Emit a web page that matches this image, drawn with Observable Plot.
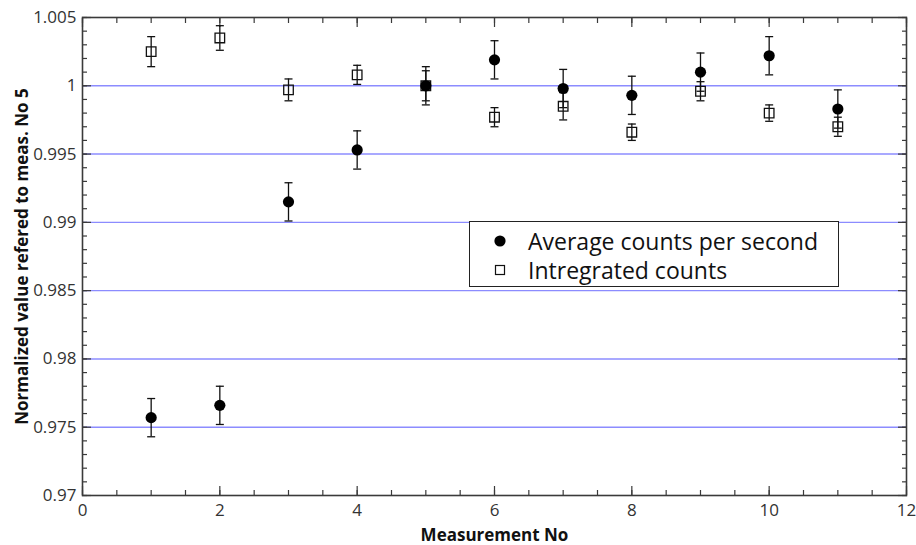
<!DOCTYPE html>
<html>
<head>
<meta charset="utf-8">
<script src="https://cdn.jsdelivr.net/npm/d3@7"></script>
<script src="https://cdn.jsdelivr.net/npm/@observablehq/plot@0.6"></script>
<style>
  html, body { margin: 0; padding: 0; background: #fff; }
  #wrap { position: relative; width: 916px; height: 545px; font-family: "Open Sans", sans-serif; }
  #legend { position: absolute; left: 469px; top: 221px; width: 370px; height: 66px;
    border: 1.3px solid #222; background: #fff; box-sizing: border-box; font-size: 23px; color: #111; }
  #legend .row { position: absolute; left: 0; display: flex; align-items: center; height: 30px; }
  #legend svg { display: block; }
</style>
</head>
<body>
<div id="wrap"></div>
<script>
// ---- data ----
const measurement = [1, 2, 3, 4, 5, 6, 7, 8, 9, 10, 11];
const avgCounts =    [0.9757, 0.9766, 0.9915, 0.9953, 1.0000, 1.0019, 0.9998, 0.9993, 1.0010, 1.0022, 0.9983];
const avgErr =       [0.0014, 0.0014, 0.0014, 0.0014, 0.0014, 0.0014, 0.0014, 0.0014, 0.0014, 0.0014, 0.0014];
const intCounts =    [1.0025, 1.0035, 0.9997, 1.0008, 1.0000, 0.9977, 0.9985, 0.9966, 0.9996, 0.9980, 0.9970];
const intErr =       [0.0011, 0.0009, 0.0008, 0.0007, 0.0011, 0.0007, 0.0010, 0.0006, 0.0007, 0.0006, 0.0007];
const seriesNames = ["Average counts per second", "Intregrated counts"];
const xTicks = [0, 2, 4, 6, 8, 10, 12];
const xTickLabels = ["0", "2", "4", "6", "8", "10", "12"];
const yTicks = [0.97, 0.975, 0.98, 0.985, 0.99, 0.995, 1, 1.005];
const yTickLabels = ["0.97", "0.975", "0.98", "0.985", "0.99", "0.995", "1", "1.005"];
const gridValues = [0.975, 0.98, 0.985, 0.99, 0.995, 1];
const xTitle = "Measurement No";
const yTitle = "Normalized value refered to meas. No 5";

const avgData = measurement.map((m, i) => ({x: m, y: avgCounts[i], lo: avgCounts[i] - avgErr[i], hi: avgCounts[i] + avgErr[i]}));
const intData = measurement.map((m, i) => ({x: m, y: intCounts[i], lo: intCounts[i] - intErr[i], hi: intCounts[i] + intErr[i]}));

const xMinor = d3.range(0, 12.01, 0.5);
const yMinor = d3.range(0, 36).map(i => +(0.97 + i * 0.001).toFixed(3));

const capSymbol = { draw(ctx, size) { const w = Math.sqrt(size) / 2; ctx.moveTo(-w, 0); ctx.lineTo(w, 0); } };
const capR = Math.sqrt(64 / Math.PI);
const ink = "#111";
const frameInk = "#3a3a3a";

const chart = Plot.plot({
  width: 916,
  height: 545,
  marginLeft: 82,
  marginRight: 10,
  marginTop: 17,
  marginBottom: 50,
  style: { fontFamily: "'Open Sans', sans-serif", fontSize: "17px", color: "#222", background: "#fff" },
  x: { domain: [0, 12] },
  y: { domain: [0.97, 1.005] },
  marks: [
    Plot.ruleY(gridValues, { stroke: "#8c8cff", strokeWidth: 1.4 }),
    // minor/major ticks, inward
    Plot.axisX({ anchor: "bottom", ticks: xMinor, tickSize: -5, tickFormat: () => "", label: null, stroke: frameInk, strokeWidth: 1.2 }),
    Plot.axisX({ anchor: "bottom", ticks: xTicks, tickSize: -9, tickFormat: () => "", label: null, stroke: frameInk, strokeWidth: 1.2 }),
    Plot.axisX({ anchor: "top", ticks: xMinor, tickSize: -5, tickFormat: () => "", label: null, stroke: frameInk, strokeWidth: 1.2 }),
    Plot.axisX({ anchor: "top", ticks: xTicks, tickSize: -9, tickFormat: () => "", label: null, stroke: frameInk, strokeWidth: 1.2 }),
    Plot.axisY({ anchor: "left", ticks: yMinor, tickSize: -5, tickFormat: () => "", label: null, stroke: frameInk, strokeWidth: 1.2 }),
    Plot.axisY({ anchor: "left", ticks: yTicks, tickSize: -9, tickFormat: () => "", label: null, stroke: frameInk, strokeWidth: 1.2 }),
    Plot.axisY({ anchor: "right", ticks: yMinor, tickSize: -5, tickFormat: () => "", label: null, stroke: frameInk, strokeWidth: 1.2 }),
    Plot.axisY({ anchor: "right", ticks: yTicks, tickSize: -9, tickFormat: () => "", label: null, stroke: frameInk, strokeWidth: 1.2 }),
    // tick labels
    Plot.axisX({ anchor: "bottom", ticks: xTicks, tickSize: 0, tickPadding: 8, tickFormat: (d) => xTickLabels[xTicks.indexOf(d)], label: null, fontSize: 17, fill: "#333" }),
    Plot.axisY({ anchor: "left", ticks: yTicks, tickSize: 0, tickPadding: 6, tickFormat: (d) => yTickLabels[yTicks.indexOf(d)], label: null, fontSize: 17, fill: "#333" }),
    Plot.frame({ stroke: frameInk, strokeWidth: 1.6 }),
    // error bars: integrated
    Plot.ruleX(intData, { x: "x", y1: "lo", y2: "hi", stroke: ink, strokeWidth: 1.3 }),
    Plot.dot(intData, { x: "x", y: "lo", symbol: capSymbol, r: capR, stroke: ink, strokeWidth: 1.3 }),
    Plot.dot(intData, { x: "x", y: "hi", symbol: capSymbol, r: capR, stroke: ink, strokeWidth: 1.3 }),
    Plot.dot(intData, { x: "x", y: "y", symbol: "square", r: 5.4, stroke: ink, fill: "none", strokeWidth: 1.3 }),
    // error bars: average
    Plot.ruleX(avgData, { x: "x", y1: "lo", y2: "hi", stroke: ink, strokeWidth: 1.3 }),
    Plot.dot(avgData, { x: "x", y: "lo", symbol: capSymbol, r: capR, stroke: ink, strokeWidth: 1.3 }),
    Plot.dot(avgData, { x: "x", y: "hi", symbol: capSymbol, r: capR, stroke: ink, strokeWidth: 1.3 }),
    Plot.dot(avgData, { x: "x", y: "y", symbol: "circle", r: 5.6, fill: "#000", stroke: "none" }),
    // axis titles
    Plot.text([xTitle], { text: (d) => d, frameAnchor: "bottom", textAnchor: "middle", lineAnchor: "middle", dy: 40, fontWeight: "bold", fontSize: 17, fill: "#111" }),
    Plot.text([yTitle], { text: (d) => d, frameAnchor: "left", textAnchor: "middle", lineAnchor: "middle", dx: -60, rotate: -90, fontWeight: "bold", fontSize: 17, fill: "#111" })
  ]
});

const wrap = document.getElementById("wrap");
wrap.appendChild(chart);

const legend = document.createElement("div");
legend.id = "legend";
legend.innerHTML = `
  <div class="row" style="top:4px;left:22px;">
    <svg width="16" height="16"><circle cx="8" cy="8" r="5.6" fill="#000"/></svg>
    <span style="margin-left:20px;">${seriesNames[0]}</span>
  </div>
  <div class="row" style="top:33px;left:22px;">
    <svg width="16" height="16"><rect x="3.5" y="3.5" width="9" height="9" fill="none" stroke="#111" stroke-width="1.2"/></svg>
    <span style="margin-left:20px;">${seriesNames[1]}</span>
  </div>`;
wrap.appendChild(legend);
</script>
</body>
</html>
